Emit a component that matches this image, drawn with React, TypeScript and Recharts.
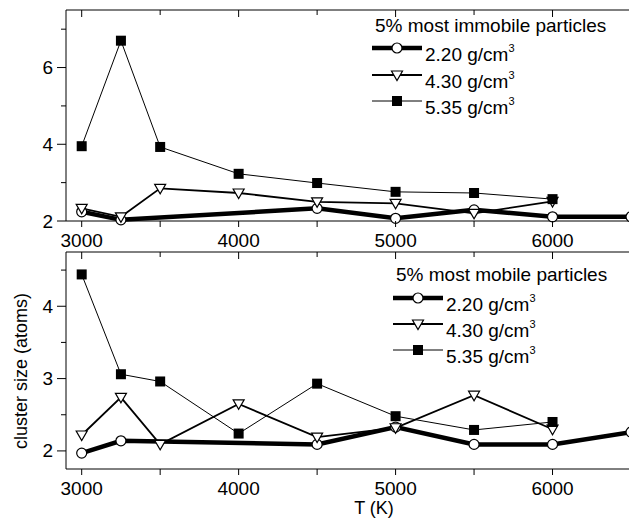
import { LineChart, Line, XAxis, YAxis } from 'recharts';

// temperatures (K)
const temps = [3000, 3250, 3500, 4000, 4500, 5000, 5500, 6000, 6500];

// 5% most immobile particles
const immobile220 = [2.24, 2.03, null, null, 2.33, 2.07, 2.29, 2.11, 2.11];
const immobile430 = [2.33, 2.11, 2.85, 2.73, 2.5, 2.46, 2.2, 2.51, null];
const immobile535 = [3.95, 6.7, 3.93, 3.23, 2.99, 2.76, 2.73, 2.57, null];

// 5% most mobile particles
const mobile220 = [1.97, 2.14, null, null, 2.09, 2.33, 2.09, 2.09, 2.26];
const mobile430 = [2.22, 2.74, 2.09, 2.65, 2.19, 2.32, 2.77, 2.3, null];
const mobile535 = [4.44, 3.06, 2.96, 2.24, 2.93, 2.48, 2.29, 2.4, null];

const densityLabels = ['2.20', '4.30', '5.35'];
const xTicks = [3000, 3500, 4000, 4500, 5000, 5500, 6000, 6500];
const topYTicks = [2, 3, 4, 5, 6, 7];
const bottomYTicks = [2, 2.5, 3, 3.5, 4, 4.5];

const topRows = temps.map((T, i) => ({ T, d220: immobile220[i], d430: immobile430[i], d535: immobile535[i] }));
const bottomRows = temps.map((T, i) => ({ T, d220: mobile220[i], d430: mobile430[i], d535: mobile535[i] }));

const FONT = '"Liberation Sans", Arial, sans-serif';

function circleMark(cx: number, cy: number, key?: any) {
  return <circle key={key} cx={cx} cy={cy} r={5} fill="#fff" stroke="#000" strokeWidth={1.2} />;
}
function triMark(cx: number, cy: number, key?: any) {
  return (
    <path
      key={key}
      d={`M${cx - 5.5},${cy - 4} L${cx + 5.5},${cy - 4} L${cx},${cy + 5.5} Z`}
      fill="#fff"
      stroke="#000"
      strokeWidth={1.2}
    />
  );
}
function squareMark(cx: number, cy: number, key?: any) {
  return <rect key={key} x={cx - 5} y={cy - 5} width={10} height={10} fill="#000" />;
}

const series = [
  { key: 'd220', label: densityLabels[0], width: 4.5, mark: circleMark },
  { key: 'd430', label: densityLabels[1], width: 1.8, mark: triMark },
  { key: 'd535', label: densityLabels[2], width: 1, mark: squareMark },
];

function BottomTick({ x, y, payload }: any) {
  const v = payload.value;
  const major = v % 1000 === 0;
  return (
    <g>
      <line x1={x} x2={x} y1={y} y2={y + 6} stroke="#000" />
      {major && (
        <text x={x} y={y + 26} textAnchor="middle" fontSize={19} fill="#000">
          {v}
        </text>
      )}
    </g>
  );
}

function TopTick({ x, y, payload }: any) {
  const major = payload.value % 1000 === 0;
  return <line x1={x} x2={x} y1={y} y2={y + (major ? 7 : 5)} stroke="#000" />;
}

function makeLeftTick(isMajor: (v: number) => boolean) {
  return ({ x, y, payload }: any) => {
    const major = isMajor(payload.value);
    return (
      <g>
        <line x1={x - (major ? 9 : 5)} x2={x} y1={y} y2={y} stroke="#000" />
        {major && (
          <text x={x - 13} y={y + 6.5} textAnchor="end" fontSize={19} fill="#000">
            {payload.value}
          </text>
        )}
      </g>
    );
  };
}

function makeRightTick(isMajor: (v: number) => boolean) {
  return ({ x, y, payload }: any) => {
    const major = isMajor(payload.value);
    return <line x1={x - (major ? 8 : 5)} x2={x} y1={y} y2={y} stroke="#000" />;
  };
}

function Panel({ rows, height, margin, domain, yTicks, isMajor }: any) {
  const LeftTick = makeLeftTick(isMajor);
  const RightTick = makeRightTick(isMajor);
  return (
    <LineChart width={640} height={height} data={rows} margin={margin}>
      <XAxis
        dataKey="T"
        type="number"
        domain={[2900, 6500]}
        ticks={xTicks}
        interval={0}
        height={28}
        tickSize={0}
        tickMargin={0}
        tickLine={false}
        axisLine={{ stroke: '#000' }}
        tick={<BottomTick />}
      />
      <XAxis
        xAxisId="top"
        orientation="top"
        dataKey="T"
        type="number"
        domain={[2900, 6500]}
        ticks={xTicks}
        interval={0}
        height={5}
        tickSize={0}
        tickMargin={0}
        tickLine={false}
        axisLine={{ stroke: '#000' }}
        tick={<TopTick />}
      />
      <YAxis
        type="number"
        domain={domain}
        ticks={yTicks}
        interval={0}
        width={60}
        tickSize={0}
        tickMargin={0}
        tickLine={false}
        axisLine={{ stroke: '#000' }}
        tick={<LeftTick />}
      />
      <YAxis
        yAxisId="right"
        orientation="right"
        type="number"
        domain={domain}
        ticks={yTicks}
        interval={0}
        width={5}
        tickSize={0}
        tickMargin={0}
        tickLine={false}
        axisLine={{ stroke: '#000' }}
        tick={<RightTick />}
      />
      {series.map((s) => (
        <Line
          key={s.key}
          type="linear"
          dataKey={s.key}
          stroke="#000"
          strokeWidth={s.width}
          connectNulls
          isAnimationActive={false}
          dot={(p: any) =>
            p.cy == null || p.value == null ? <g key={p.key ?? p.index} /> : s.mark(p.cx, p.cy, p.key ?? p.index)
          }
          activeDot={false}
        />
      ))}
    </LineChart>
  );
}

function LegendBlock({ title, titleX, titleY, sampleX, rowYs }: any) {
  return (
    <g>
      <text x={titleX} y={titleY} fontSize={19} fill="#000">
        {title}
      </text>
      {series.map((s, i) => {
        const y = rowYs[i];
        return (
          <g key={s.key}>
            <line x1={sampleX} x2={sampleX + 50} y1={y} y2={y} stroke="#000" strokeWidth={s.width} />
            {s.mark(sampleX + 25, y)}
            <text x={sampleX + 53} y={y + 12.5} fontSize={19} fill="#000">
              {s.label} g/cm
              <tspan dy={-9} fontSize={11}>
                3
              </tspan>
            </text>
          </g>
        );
      })}
    </g>
  );
}

export default function App() {
  return (
    <div
      style={{
        position: 'fixed',
        left: 0,
        top: 0,
        width: 629,
        height: 525,
        overflow: 'hidden',
        background: '#fff',
        fontFamily: FONT,
      }}
    >
      <div style={{ position: 'absolute', left: 0, top: 0 }}>
        <Panel
          rows={topRows}
          height={255}
          margin={{ top: 5, right: 4, bottom: 6, left: 6 }}
          domain={[2, 7.5]}
          yTicks={topYTicks}
          isMajor={(v: number) => v % 2 === 0}
        />
      </div>
      <div style={{ position: 'absolute', left: 0, top: 230 }}>
        <Panel
          rows={bottomRows}
          height={295}
          margin={{ top: 17, right: 4, bottom: 28, left: 6 }}
          domain={[1.75, 4.75]}
          yTicks={bottomYTicks}
          isMajor={(v: number) => Number.isInteger(v)}
        />
      </div>
      <svg
        width={629}
        height={525}
        style={{ position: 'absolute', left: 0, top: 0, pointerEvents: 'none', fontFamily: FONT }}
      >
        <LegendBlock title="5% most immobile particles" titleX={375} titleY={32} sampleX={372} rowYs={[48, 75, 101]} />
        <LegendBlock title="5% most mobile particles" titleX={396} titleY={281} sampleX={393} rowYs={[298, 324, 350]} />
        <text x={374} y={514} textAnchor="middle" fontSize={18} fill="#000">
          T (K)
        </text>
        <text transform="translate(27, 371) rotate(-90)" textAnchor="middle" fontSize={18} fill="#000">
          cluster size (atoms)
        </text>
      </svg>
    </div>
  );
}
